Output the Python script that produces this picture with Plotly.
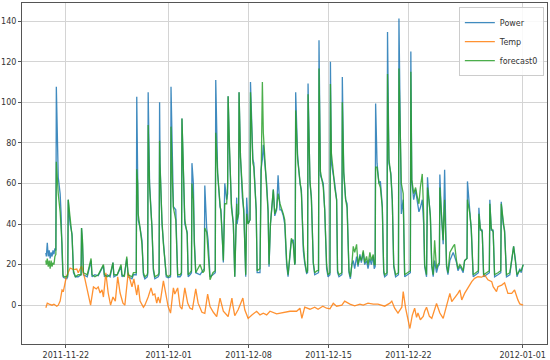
import pandas as pd
import plotly.graph_objects as go

start = "2011-11-20 06:00"

power_hours = [0, 1, 3, 5, 7, 9, 11, 13, 15, 17, 19, 21, 22, 24, 26, 30, 32, 34, 36, 38, 44, 46, 47, 49, 51, 55, 58, 62, 68, 74, 75, 77, 79, 87, 95, 97, 103, 110, 121, 123, 129, 135, 141, 143, 150, 158, 160, 165, 170, 173, 181, 184, 190, 191, 193, 194, 198, 202, 205, 208, 213, 214, 215, 218, 223, 226, 229, 236, 238, 239, 240, 244, 247, 253, 257, 262, 263, 266, 268, 273, 275, 277, 282, 285, 286, 289, 292, 297, 299, 303, 306, 307, 310, 312, 315, 324, 330, 333, 334, 338, 341, 345, 351, 356, 357, 361, 366, 368, 371, 373, 376, 380, 382, 383, 386, 387, 390, 394, 397, 401, 402, 405, 406, 409, 413, 416, 420, 422, 425, 429, 430, 435, 437, 442, 444, 450, 452, 455, 457, 460, 464, 467, 469, 472, 478, 481, 485, 488, 492, 495, 499, 502, 506, 509, 513, 516, 520, 523, 524, 525, 529, 534, 537, 541, 544, 548, 550, 551, 555, 558, 562, 565, 570, 573, 574, 577, 583, 586, 590, 593, 597, 598, 600, 604, 607, 611, 613, 616, 622, 623, 626, 630, 633, 637, 640, 643, 646, 649, 653, 656, 660, 663, 667, 670, 674, 677, 681, 684, 688, 690, 692, 693, 696, 700, 703, 707, 710, 712, 717, 718, 721, 725, 728, 731, 735, 741, 742, 747, 751, 754, 760, 766, 767, 769, 773, 777, 780, 784, 787, 791, 794, 796, 800, 802, 805, 808, 811, 814, 817, 821, 824, 827, 828, 831, 835, 838, 842, 845, 849, 856, 859, 863, 866, 870, 873, 877, 880, 885, 886, 891, 894, 898, 905, 909, 910, 913, 917, 920, 926, 932, 933, 936, 940, 943, 950, 956, 957, 961, 964, 968, 975, 983, 987, 990, 996, 999, 1003]

power = [25.7, 24, 30.8, 24, 27, 23, 26, 24, 27, 25, 28, 27, 107.6, 75, 63, 55, 45, 26, 14, 13.5, 13, 14, 52, 45, 40, 35, 16, 14, 14, 15, 38, 30, 15, 14, 22, 14, 15, 14.5, 19.5, 14, 15, 14, 21, 14, 15, 19, 14, 15, 23, 14, 13, 15, 15, 102.7, 70, 42, 38, 32, 15, 13, 14, 15, 105, 60, 38, 17, 13, 14, 15, 100, 70, 40, 32, 14, 13.5, 14, 107.6, 60, 48.5, 47, 32, 14, 14, 15, 92, 60, 40, 36, 14, 15, 16, 70, 60, 32, 16, 15, 17, 18, 59, 38, 32, 14, 15, 16, 111, 65, 48.5, 47, 32, 21, 60, 52, 55, 103, 75, 70, 50, 40, 14, 53, 40, 45, 105, 73, 53, 47, 14, 53, 40, 42, 110, 72, 70, 47, 16, 16, 66.6, 72, 79, 70, 60, 47, 19, 40, 57, 44, 47, 64, 47, 47, 44, 40, 20, 14, 27, 32, 32, 20, 21, 105, 74, 60, 57, 27, 20.6, 15.7, 16, 109.3, 60, 53.5, 20.6, 15, 15.7, 16, 130.6, 64, 60, 47, 18, 14, 15, 120, 70, 65, 60, 52, 16, 14, 15, 112.5, 65, 52, 50, 16, 13, 20, 22, 18, 24, 19, 25, 21, 26, 20, 22, 18, 23, 20, 24, 18, 19, 99.4, 70, 60, 61, 49, 16, 14, 15, 134.7, 70, 65, 52, 19, 14, 15, 141.3, 45, 52, 14, 15, 16, 125, 61, 52, 57, 52, 46, 48, 52, 40, 19, 14, 63, 52, 44, 19, 14, 22, 16, 19, 20, 64.4, 45, 30, 66.8, 19, 15, 22, 26, 24, 21, 17, 19, 18, 16, 22, 23, 61, 45, 37, 14, 15, 16, 48, 37, 37, 14, 15, 16, 52, 37, 37, 14, 15, 16, 51, 40, 37, 14, 15, 29, 22, 14, 18, 16, 20]

forecast0 = [22, 20, 23, 19, 22, 18, 22, 19, 21, 20, 24, 25, 70.7, 62, 55, 46, 40, 30, 15, 14, 14, 15, 52, 47, 42, 34, 17, 14, 15, 15, 38, 32, 16, 15, 23, 15, 14, 15, 20, 15, 14, 15, 21, 15, 15, 20, 15, 14, 24, 15, 14, 16, 16, 67, 60, 45, 38, 30, 16, 14, 15, 16, 88.8, 58, 38, 18, 14, 15, 16, 81, 68, 42, 30, 15, 14, 15, 88, 60, 48, 42, 30, 15, 15, 16, 92, 60, 42, 35, 15, 16, 17, 60, 52, 30, 16, 20, 16, 17, 38, 36, 25, 12.5, 16, 17, 85, 65, 50, 45, 32, 22, 50, 50, 60, 103, 78, 70, 48, 40, 14, 50, 42, 45, 105, 73, 55, 45, 15, 45, 40, 42, 105, 70, 68, 47, 17, 18, 55, 110, 85, 72, 60, 46, 20, 40, 57, 45, 48, 55, 50, 48, 45, 42, 22, 15, 28, 33, 30, 20, 22, 96, 72, 62, 55, 30, 22, 16, 17, 104, 62, 52, 21, 16, 17, 17, 116.7, 66, 58, 47, 20, 15, 16, 109, 75, 66, 58, 52, 17, 15, 16, 100, 66, 52, 48, 17, 14, 20, 29, 26, 30, 20, 24, 22, 27, 21, 24, 20, 26, 22, 25, 20, 20, 68, 68, 60, 58, 48, 17, 15, 16, 114, 72, 64, 52, 20, 15, 16, 116.7, 60, 55, 15, 16, 17, 115, 62, 55, 58, 54, 50, 58, 64.7, 45, 20, 15, 58, 52, 44, 20, 15, 32, 18, 20, 21, 58, 45, 32, 52, 20, 16, 26, 29, 30, 22, 18, 20, 19, 17, 22, 23, 52, 45, 38, 15, 16, 17, 45, 38, 36, 15, 16, 17, 50, 38, 36, 15, 16, 17, 50, 40, 36, 15, 16, 29, 22, 15, 17, 17, 20]

temp_hours = [0, 3, 7, 13, 17, 23, 26, 30, 34, 37, 43, 51, 58, 65, 68, 75, 82, 89, 94, 100, 106, 110, 114, 118, 121, 126, 131, 136, 141, 146, 151, 156, 162, 166, 173, 181, 185, 191, 194, 198, 205, 208, 215, 221, 225, 229, 233, 236, 240, 247, 252, 257, 262, 268, 271, 277, 282, 286, 292, 298, 303, 308, 315, 320, 328, 334, 340, 345, 352, 359, 366, 373, 383, 391, 393, 397, 404, 414, 418, 425, 433, 443, 450, 457, 464, 471, 485, 499, 513, 527, 534, 538, 544, 555, 565, 572, 582, 590, 597, 604, 611, 622, 628, 639, 649, 660, 667, 677, 688, 698, 712, 723, 727, 733, 740, 748, 751, 756, 761, 765, 770, 775, 779, 782, 787, 793, 796, 800, 806, 811, 821, 828, 835, 845, 849, 853, 859, 866, 870, 874, 880, 887, 895, 901, 908, 916, 922, 929, 937, 940, 947, 950, 958, 964, 971, 979, 985, 992, 996, 1003]

temp = [-1.3, 1, 0.5, 0, 0.5, -0.5, 0, 2, 7.5, 7, 14, 18.3, 17.5, 17.8, 16, 19.3, 13, 6, 0, 9, 8, 9, 6, 7.5, 4, 16, 6, 0, 4, 2, 14, 6, 1, 0, 16, 9, 13, 5, 10, 2, -1, 0, 4, 8.5, 5, 5.5, 1, 4, 1, 12, 5, -0.7, -3.9, 8.5, 5.5, 8.5, -0.7, -2, 8.5, 1, -1.5, -2, 8, 1, -3.5, -4, 5.5, -0.7, -3.5, -5.6, 3.5, -3, -5.6, 3.5, 0, -5.2, -2.3, 3.5, -2.3, -6.5, -4.8, -3, -4.8, -4, -4.8, -3, -4.3, -3.5, -3, -3, -1.5, -6.5, -1, -2, -1, -2, -0.5, -1.5, -1.8, 0.9, -0.5, 0, 2, 0.5, -0.3, 0.5, 0, 1, 0.5, 0.5, -0.5, 1, 2, -1.5, -3.9, -1, 6.7, -1.5, -7.2, -11.5, -5, -1.5, -6, -3.9, -7.2, -5.5, -3, -1, -5.5, -6.5, 0.8, -3.9, -6.5, 2.6, 5.8, 1.8, 3.5, 5.8, 7.5, 2.6, 5.8, 8.5, 11.6, 13.2, 14, 13.8, 14.9, 12.5, 11.6, 9.1, 6.7, 9.1, 9.9, 11, 5.8, 5.8, 7.5, 2.6, 0.6, 0]

y_ticks = [0, 20, 40, 60, 80, 100, 120, 140]
x_ticks = ["2011-11-22", "2011-12-01", "2011-12-08", "2011-12-15", "2011-12-22", "2012-01-01"]

t0 = pd.Timestamp(start)
px_t = t0 + pd.to_timedelta(power_hours, unit="h")
tt_t = t0 + pd.to_timedelta(temp_hours, unit="h")

# matplotlib-like 5% margins
tmin = min(px_t.min(), tt_t.min())
tmax = max(px_t.max(), tt_t.max())
tpad = (tmax - tmin) * 0.05
vmin = min(min(power), min(forecast0), min(temp))
vmax = max(max(power), max(forecast0), max(temp))
vpad = (vmax - vmin) * 0.05

fig = go.Figure()
fig.add_trace(go.Scatter(x=px_t, y=power, mode="lines", name="Power",
                         line=dict(color="#1f77b4", width=1.3), opacity=0.85))
fig.add_trace(go.Scatter(x=tt_t, y=temp, mode="lines", name="Temp",
                         line=dict(color="#ff7f0e", width=1.3), opacity=0.85))
fig.add_trace(go.Scatter(x=px_t, y=forecast0, mode="lines", name="forecast0",
                         line=dict(color="#2ca02c", width=1.3), opacity=0.85))

axis_font = dict(family="DejaVu Sans", size=8, color="#333333")
fig.update_layout(
    width=550, height=360,
    margin=dict(l=22, r=3, t=3, b=16, autoexpand=False),
    paper_bgcolor="white", plot_bgcolor="white",
    showlegend=True,
    legend=dict(x=0.994, y=0.988, xanchor="right", yanchor="top",
                bgcolor="rgba(255,255,255,0.85)", bordercolor="#cccccc", borderwidth=1,
                font=dict(family="DejaVu Sans", size=8, color="#333333"),
                itemwidth=30, tracegroupgap=0),
)
fig.update_xaxes(
    type="date", range=[tmin - tpad, tmax + tpad], automargin=False,
    tickvals=[pd.Timestamp(s) for s in x_ticks], ticktext=x_ticks,
    showgrid=True, gridcolor="#d4d4d4", gridwidth=1,
    showline=True, linecolor="#555555", linewidth=1, mirror=True,
    ticks="outside", ticklen=3, tickcolor="#555555",
    tickfont=axis_font, zeroline=False,
)
fig.update_yaxes(
    range=[vmin - vpad, vmax + vpad], automargin=False,
    tickvals=y_ticks,
    showgrid=True, gridcolor="#d4d4d4", gridwidth=1,
    showline=True, linecolor="#555555", linewidth=1, mirror=True,
    ticks="outside", ticklen=3, tickcolor="#555555",
    tickfont=axis_font, zeroline=False,
)

fig.write_html("out.html", config={"displayModeBar": False},
               post_script="document.body.style.margin='0px';document.body.style.overflow='hidden';")
